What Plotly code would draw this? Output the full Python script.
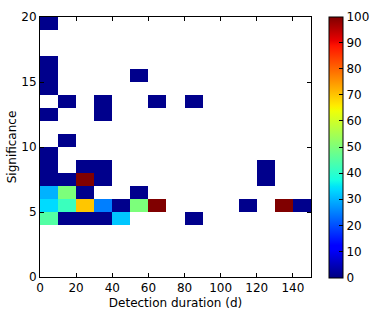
import plotly.graph_objects as go

# Bin edges (lower-left corner of each filled cell) and its value
cell_x = [0, 0, 0, 0, 50,
          10, 30, 60, 80,
          0, 30,
          10,
          0,
          0, 20, 30, 120,
          0, 10, 20, 30, 120,
          0, 10, 20, 50,
          0, 10, 20, 30, 40, 50, 60, 110, 130, 140,
          0, 10, 20, 30, 40, 80]
cell_y = [19, 16, 15, 14, 15,
          13, 13, 13, 13,
          12, 12,
          10,
          9,
          8, 8, 8, 8,
          7, 7, 7, 7, 7,
          6, 6, 6, 6,
          5, 5, 5, 5, 5, 5, 5, 5, 5, 5,
          4, 4, 4, 4, 4, 4]
cell_v = [1, 1, 1, 1, 1,
          1, 1, 1, 1,
          1, 1,
          1,
          1,
          1, 1, 1, 1,
          1, 1, 100, 1, 1,
          30, 50, 1, 1,
          34, 42, 70, 25, 1, 50, 100, 1, 100, 1,
          45, 1, 1, 1, 32, 1]

x_width = 10
y_height = 1
n_x = 15
n_y = 20

x_centers = [x_width * (i + 0.5) for i in range(n_x)]
y_centers = [y_height * (j + 0.5) for j in range(n_y)]
z = [[None] * n_x for _ in range(n_y)]
for cx, cy, v in zip(cell_x, cell_y, cell_v):
    z[int(cy // y_height)][int(cx // x_width)] = v

# matplotlib "jet" colormap
red = [(0, 0), (0.35, 0), (0.66, 1), (0.89, 1), (1, 0.5)]
green = [(0, 0), (0.125, 0), (0.375, 1), (0.64, 1), (0.91, 0), (1, 0)]
blue = [(0, 0.5), (0.11, 1), (0.34, 1), (0.65, 0), (1, 0)]


def interp(pts, t):
    for (a, va), (b, vb) in zip(pts[:-1], pts[1:]):
        if a <= t <= b:
            return va + (vb - va) * (t - a) / (b - a) if b > a else va
    return pts[-1][1]


stops = sorted(set(p[0] for p in red + green + blue))
jet = [[t, "rgb(%d,%d,%d)" % (round(255 * interp(red, t)),
                               round(255 * interp(green, t)),
                               round(255 * interp(blue, t)))] for t in stops]

fig = go.Figure(go.Heatmap(
    x=x_centers, y=y_centers, z=z,
    colorscale=jet, zmin=0, zmax=100,
    hoverongaps=False,
    colorbar=dict(
        x=1.068, xanchor="left", y=0.5, yanchor="middle",
        len=1.005, lenmode="fraction", thickness=14,
        outlinecolor="black", outlinewidth=1,
        tickvals=list(range(0, 101, 10)),
        ticks="inside", ticklen=4, tickcolor="black",
        tickfont=dict(family="DejaVu Sans", size=12, color="black"),
        xpad=0, ypad=0,
    ),
))

axis_common = dict(
    showgrid=False, zeroline=False, showline=True, mirror="allticks",
    linecolor="black", linewidth=1, ticks="inside", ticklen=4,
    tickcolor="black", automargin=False,
    tickfont=dict(family="DejaVu Sans", size=12, color="black"),
)

fig.update_layout(
    width=374, height=315,
    margin=dict(l=40, r=63, t=17, b=38, autoexpand=False),
    paper_bgcolor="white", plot_bgcolor="white",
    font=dict(family="DejaVu Sans", size=12, color="black"),
    xaxis=dict(range=[0, 150], tickvals=list(range(0, 141, 20)),
               title=dict(text="Detection duration (d)", standoff=4,
                          font=dict(size=12)), **axis_common),
    yaxis=dict(range=[0, 20], tickvals=[0, 5, 10, 15, 20],
               title=dict(text="Significance", standoff=2,
                          font=dict(size=12)), **axis_common),
)

fig.write_html("out.html",
               config={"displayModeBar": False},
               post_script="document.body.style.margin='0px';")
